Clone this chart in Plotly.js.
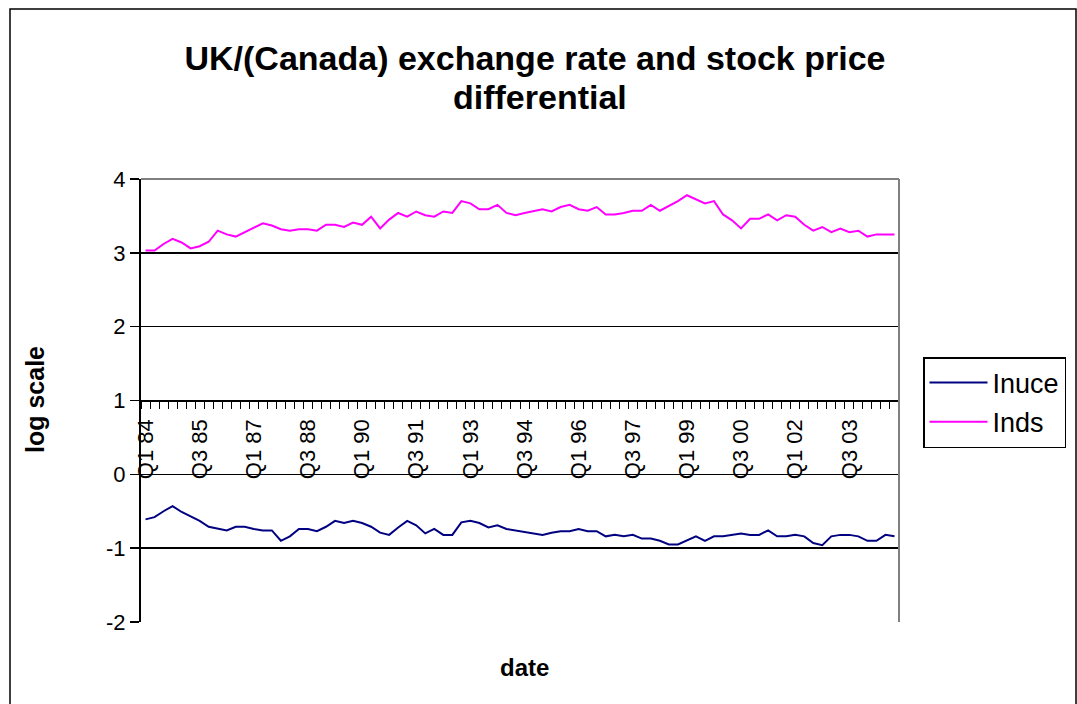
<!DOCTYPE html>
<html>
<head>
<meta charset="utf-8">
<script src="https://cdn.plot.ly/plotly-3.0.1.min.js"></script>
<style>
html,body{margin:0;padding:0;background:#fff;}
#chart{width:1077px;height:704px;}
</style>
</head>
<body>
<div id="chart"></div>
<script>
var categories = [
"Q1 84","Q2 84","Q3 84","Q4 84","Q1 85","Q2 85","Q3 85","Q4 85",
"Q1 86","Q2 86","Q3 86","Q4 86","Q1 87","Q2 87","Q3 87","Q4 87",
"Q1 88","Q2 88","Q3 88","Q4 88","Q1 89","Q2 89","Q3 89","Q4 89",
"Q1 90","Q2 90","Q3 90","Q4 90","Q1 91","Q2 91","Q3 91","Q4 91",
"Q1 92","Q2 92","Q3 92","Q4 92","Q1 93","Q2 93","Q3 93","Q4 93",
"Q1 94","Q2 94","Q3 94","Q4 94","Q1 95","Q2 95","Q3 95","Q4 95",
"Q1 96","Q2 96","Q3 96","Q4 96","Q1 97","Q2 97","Q3 97","Q4 97",
"Q1 98","Q2 98","Q3 98","Q4 98","Q1 99","Q2 99","Q3 99","Q4 99",
"Q1 00","Q2 00","Q3 00","Q4 00","Q1 01","Q2 01","Q3 01","Q4 01",
"Q1 02","Q2 02","Q3 02","Q4 02","Q1 03","Q2 03","Q3 03","Q4 03",
"Q1 04","Q2 04","Q3 04","Q4 04"
];

var tickLabels = ["Q1 84","Q3 85","Q1 87","Q3 88","Q1 90","Q3 91","Q1 93","Q3 94","Q1 96","Q3 97","Q1 99","Q3 00","Q1 02","Q3 03"];

var yTickVals = [-2, -1, 0, 1, 2, 3, 4];
var yTickText = ["-2", "-1", "0", "1", "2", "3", "4"];

var inuce = [
-0.61,-0.58,-0.50,-0.43,-0.51,-0.57,-0.63,-0.71,-0.74,-0.76,-0.71,-0.71,
-0.74,-0.76,-0.76,-0.90,-0.84,-0.74,-0.74,-0.77,-0.71,-0.63,-0.66,-0.63,
-0.66,-0.71,-0.79,-0.82,-0.72,-0.63,-0.69,-0.80,-0.74,-0.82,-0.82,-0.65,
-0.63,-0.66,-0.72,-0.69,-0.74,-0.76,-0.77,-0.80,-0.82,-0.79,-0.77,-0.77,
-0.74,-0.77,-0.77,-0.84,-0.82,-0.84,-0.82,-0.87,-0.87,-0.90,-0.95,-0.95,
-0.90,-0.84,-0.90,-0.84,-0.84,-0.82,-0.80,-0.82,-0.82,-0.76,-0.84,-0.84,
-0.82,-0.84,-0.93,-0.96,-0.84,-0.82,-0.82,-0.84,-0.90,-0.90,-0.82,-0.84
];

var inds = [
3.03,3.03,3.12,3.19,3.14,3.06,3.09,3.15,3.30,3.25,3.22,3.28,
3.33,3.40,3.37,3.32,3.30,3.32,3.32,3.30,3.38,3.38,3.35,3.41,
3.38,3.49,3.33,3.45,3.54,3.49,3.56,3.51,3.49,3.56,3.54,3.70,
3.67,3.59,3.59,3.65,3.54,3.51,3.54,3.57,3.59,3.56,3.62,3.65,
3.59,3.57,3.62,3.52,3.52,3.54,3.57,3.57,3.65,3.57,3.63,3.70,
3.78,3.73,3.67,3.70,3.52,3.44,3.33,3.46,3.46,3.52,3.44,3.51,
3.49,3.38,3.30,3.35,3.28,3.33,3.28,3.30,3.22,3.25,3.25,3.25
];

var xIdx = categories.map(function(c, i){ return i; });
var tickIdx = tickLabels.map(function(t){ return categories.indexOf(t); });

var FONT = '"Liberation Sans", Arial, sans-serif';

var traces = [
  {x: xIdx, y: inuce, name: 'Inuce', type: 'scatter', mode: 'lines', legendgroup: 'a',
   line: {color: '#000080', width: 2}, text: categories, hoverinfo: 'text+y'},
  {x: xIdx, y: inds, name: 'Inds', type: 'scatter', mode: 'lines', legendgroup: 'b',
   line: {color: '#FF00FF', width: 2}, text: categories, hoverinfo: 'text+y'}
];

var L = 141, R = 899, T = 179, B = 622, W = 1077, H = 704;
function px(x){ return (x - L) / (R - L); }
function py(y){ return (B - y) / (B - T); }

var layout = {
  width: W, height: H,
  margin: {l: L, r: W - R, t: T, b: H - B, pad: 0, autoexpand: false},
  paper_bgcolor: '#ffffff',
  plot_bgcolor: '#ffffff',
  font: {family: FONT, color: '#000000', size: 22},
  showlegend: true,
  title: {
    text: '<b>UK/(Canada) exchange rate and stock price</b>',
    font: {family: FONT, size: 34, color: '#000000'},
    x: 535 / W, xanchor: 'center', xref: 'container',
    y: 1 - 58 / H, yanchor: 'middle', yref: 'container'
  },
  xaxis: {
    range: [-0.5, 83.5],
    anchor: 'free', position: 0.5,
    showline: true, linecolor: '#000000', linewidth: 2,
    showgrid: false, zeroline: false,
    tickmode: 'array', tickvals: tickIdx, ticktext: tickLabels,
    ticks: '', tickangle: -90,
    ticklabelstandoff: 9,
    tickfont: {family: FONT, size: 22, color: '#000000'},
    minor: {ticks: 'outside', dtick: 1, tick0: -0.5, ticklen: 7, tickwidth: 1, tickcolor: '#000000', showgrid: false},
    fixedrange: true
  },
  yaxis: {
    range: [-2, 4],
    tickmode: 'array', tickvals: yTickVals, ticktext: yTickText,
    showline: true, linecolor: '#000000', linewidth: 2,
    showgrid: true, gridcolor: '#000000', gridwidth: 1.5,
    zeroline: false,
    ticks: 'outside', ticklen: 9, tickwidth: 1.5, tickcolor: '#000000',
    ticklabelstandoff: 0,
    tickfont: {family: FONT, size: 22, color: '#000000'},
    fixedrange: true
  },
  legend: {
    x: px(923), y: py(357), xanchor: 'left', yanchor: 'top',
    bordercolor: '#000000', borderwidth: 1.5, bgcolor: '#ffffff',
    font: {family: FONT, size: 27, color: '#000000'},
    itemwidth: 58,
    tracegroupgap: 1
  },
  annotations: [
    {text: '<b>differential</b>', xref: 'paper', yref: 'paper', x: px(540), y: py(97),
     showarrow: false, font: {family: FONT, size: 34, color: '#000000'},
     xanchor: 'center', yanchor: 'middle'},
    {text: '<b>log scale</b>', xref: 'paper', yref: 'paper', x: px(35), y: py(400),
     showarrow: false, textangle: -90, font: {family: FONT, size: 25, color: '#000000'},
     xanchor: 'center', yanchor: 'middle'},
    {text: '<b>date</b>', xref: 'paper', yref: 'paper', x: px(524), y: py(667),
     showarrow: false, font: {family: FONT, size: 24, color: '#000000'},
     xanchor: 'center', yanchor: 'middle'}
  ],
  shapes: [
    {type: 'line', xref: 'paper', yref: 'paper', x0: 0, x1: 1, y0: 1, y1: 1,
     line: {color: '#808080', width: 2}, layer: 'above'},
    {type: 'line', xref: 'paper', yref: 'paper', x0: 1, x1: 1, y0: 0, y1: 1,
     line: {color: '#808080', width: 2}, layer: 'above'},
    {type: 'rect', xref: 'paper', yref: 'paper', x0: px(10), x1: px(1076), y0: py(715), y1: py(9),
     line: {color: '#000000', width: 1.5}, layer: 'below'}
  ]
};

Plotly.newPlot('chart', traces, layout, {displayModeBar: false, staticPlot: true});
</script>
</body>
</html>
